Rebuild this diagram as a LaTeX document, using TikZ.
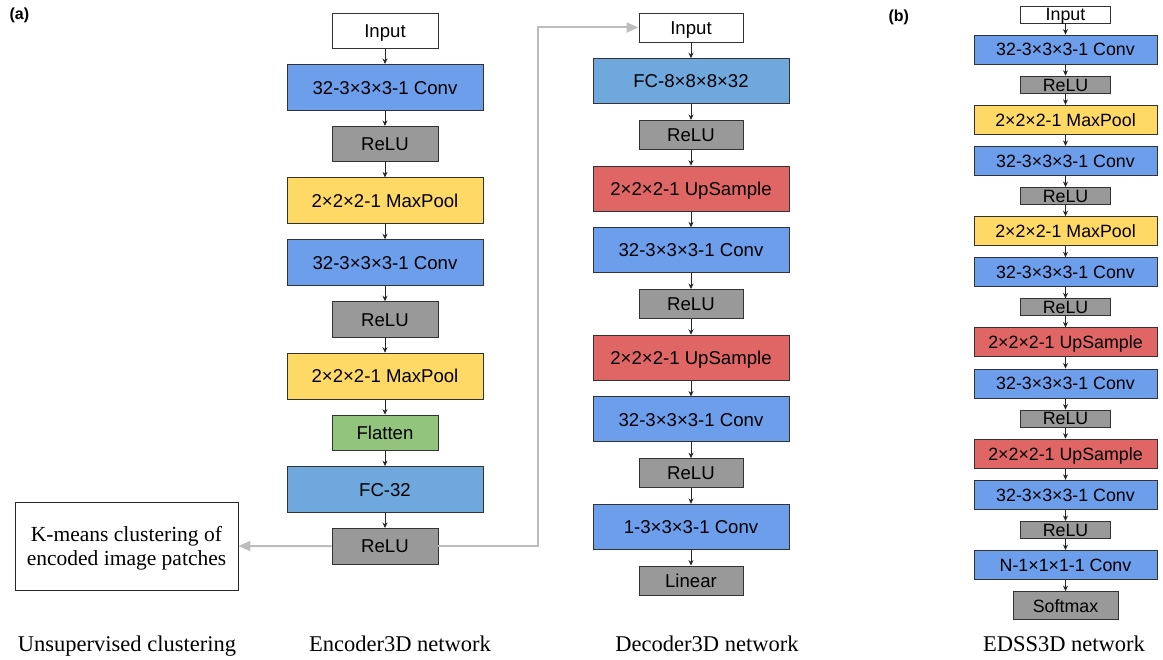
\documentclass[tikz,border=0pt]{standalone}
\usepackage{fontspec}
\setmainfont{Liberation Serif}
\setsansfont{Liberation Sans}
\usetikzlibrary{arrows.meta}

\definecolor{convblue}{HTML}{6D9EEB}
\definecolor{fcblue}{HTML}{6FA8DC}
\definecolor{relugrey}{HTML}{999999}
\definecolor{poolyellow}{HTML}{FFD966}
\definecolor{upred}{HTML}{E06666}
\definecolor{flatgreen}{HTML}{93C47D}
\definecolor{linkgrey}{HTML}{BDBDBD}

\tikzset{
  blk/.style={draw=black!80, line width=0.9pt, inner sep=0pt,
              text height=13.4pt, text depth=0pt,
              font=\sffamily\fontsize{18.6}{20}\selectfont},
  encS/.style={blk, minimum width=106pt, minimum height=35.5pt},
  encL/.style={blk, minimum width=196pt, minimum height=46pt},
  decS/.style={blk, minimum width=104pt, minimum height=29pt},
  decL/.style={blk, minimum width=196pt, minimum height=45pt},
  edsS/.style={blk, minimum width=90pt, minimum height=17pt, text height=12.8pt,
               font=\sffamily\fontsize{17.8}{18}\selectfont},
  edsL/.style={blk, minimum width=183pt, minimum height=29pt, text height=12.8pt,
               font=\sffamily\fontsize{17.8}{18}\selectfont},
  inp/.style={fill=white},
  conv/.style={fill=convblue},
  fcb/.style={fill=fcblue},
  relu/.style={fill=relugrey},
  pool/.style={fill=poolyellow},
  ups/.style={fill=upred},
  flat/.style={fill=flatgreen},
  flow/.style={draw=black!85, line width=0.8pt, -{Stealth[length=5.5pt,width=5pt]}},
  link/.style={draw=linkgrey, line width=2pt, -{Triangle[length=12pt,width=10pt]}},
  caption/.style={font=\fontsize{22.5}{24}\selectfont, anchor=base},
  panel/.style={font=\sffamily\bfseries\fontsize{16}{18}\selectfont, anchor=base west}
}

\begin{document}
\begin{tikzpicture}[x=1pt,y=-1pt]
\useasboundingbox (0,0) rectangle (1163,660);

% panel letters
\node[panel] (pa) at (6,19.6) {(a)};
\node[panel] (pb) at (885,21.5) {(b)};

% Encoder3D network
\node[encS,inp]  (eIn) at (385,30.75)  {Input};
\node[encL,conv] (eC1) at (385,87.44)  {32-3×3×3-1 Conv};
\node[encS,relu] (eR1) at (385,144.13) {ReLU};
\node[encL,pool] (eM1) at (385,200.82) {2×2×2-1 MaxPool};
\node[encL,conv] (eC2) at (385,262.76) {32-3×3×3-1 Conv};
\node[encS,relu] (eR2) at (385,319.45) {ReLU};
\node[encL,pool] (eM2) at (385,376.14) {2×2×2-1 MaxPool};
\node[encS,flat] (eF)  at (385,432.83) {Flatten};
\node[encL,fcb]  (eFC) at (385,489.52) {FC-32};
\node[encS,relu] (eR3) at (385,546.21) {ReLU};

\foreach \a/\b in {eIn/eC1,eC1/eR1,eR1/eM1,eM1/eC2,eC2/eR2,eR2/eM2,eM2/eF,eF/eFC,eFC/eR3}
  \draw[flow] (\a) -- (\b);

% Decoder3D network
\node[decS,inp]  (dIn) at (691,27.5)  {Input};
\node[decL,fcb]  (dFC) at (691,81.2)  {FC-8×8×8×32};
\node[decS,relu] (dR1) at (691,134.9) {ReLU};
\node[decL,ups]  (dU1) at (691,188.6) {2×2×2-1 UpSample};
\node[decL,conv] (dC1) at (691,250.3) {32-3×3×3-1 Conv};
\node[decS,relu] (dR2) at (691,304)   {ReLU};
\node[decL,ups]  (dU2) at (691,357.7) {2×2×2-1 UpSample};
\node[decL,conv] (dC2) at (691,419.4) {32-3×3×3-1 Conv};
\node[decS,relu] (dR3) at (691,473.1) {ReLU};
\node[decL,conv] (dC3) at (691,526.8) {1-3×3×3-1 Conv};
\node[decS,relu] (dL)  at (691,580.5) {Linear};

\foreach \a/\b in {dIn/dFC,dFC/dR1,dR1/dU1,dU1/dC1,dC1/dR2,dR2/dU2,dU2/dC2,dC2/dR3,dR3/dC3,dC3/dL}
  \draw[flow] (\a) -- (\b);

% EDSS3D network
\node[edsS,inp]  (sIn) at (1065.5,14.5)  {Input};
\node[edsL,conv] (sC1) at (1065.5,49.6)  {32-3×3×3-1 Conv};
\node[edsS,relu] (sR1) at (1065.5,84.7)  {ReLU};
\node[edsL,pool] (sM1) at (1065.5,119.8) {2×2×2-1 MaxPool};
\node[edsL,conv] (sC2) at (1065.5,160.9) {32-3×3×3-1 Conv};
\node[edsS,relu] (sR2) at (1065.5,196)   {ReLU};
\node[edsL,pool] (sM2) at (1065.5,231.1) {2×2×2-1 MaxPool};
\node[edsL,conv] (sC3) at (1065.5,272.2) {32-3×3×3-1 Conv};
\node[edsS,relu] (sR3) at (1065.5,307.3) {ReLU};
\node[edsL,ups]  (sU1) at (1065.5,342.4) {2×2×2-1 UpSample};
\node[edsL,conv] (sC4) at (1065.5,383.5) {32-3×3×3-1 Conv};
\node[edsS,relu] (sR4) at (1065.5,418.6) {ReLU};
\node[edsL,ups]  (sU2) at (1065.5,453.7) {2×2×2-1 UpSample};
\node[edsL,conv] (sC5) at (1065.5,494.8) {32-3×3×3-1 Conv};
\node[edsS,relu] (sR5) at (1065.5,529.9) {ReLU};
\node[edsL,conv] (sN)  at (1065.5,565)   {N-1×1×1-1 Conv};
\node[edsS,relu,minimum width=105pt,minimum height=28pt] (sSm) at (1065.5,605.6) {Softmax};

\foreach \a/\b in {sIn/sC1,sC1/sR1,sR1/sM1,sM1/sC2,sC2/sR2,sR2/sM2,sM2/sC3,sC3/sR3,sR3/sU1,sU1/sC4,sC4/sR4,sR4/sU2,sU2/sC5,sC5/sR5,sR5/sN,sN/sSm}
  \draw[flow] (\a) -- (\b);

% unsupervised clustering box
\node[draw=black!85, line width=0.9pt, minimum width=223pt, minimum height=88pt,
      inner sep=0pt, font=\fontsize{21.5}{24}\selectfont] (km) at (126.5,546)
      {\raisebox{-3pt}[\height][\depth]{\begin{tabular}{@{}c@{}}K-means clustering of\\encoded image patches\end{tabular}}};

% encoded features: to clustering and to the decoder
\coordinate (riser) at (538,0);
\draw[link] (eR3.west) -- (km.east);
\draw[link] (eR3.east) -| (riser |- dIn.west) -- (dIn.west);

% captions
\node[caption] (capU) at (127,651)  {Unsupervised clustering};
\node[caption] (capE) at (400,651)  {Encoder3D network};
\node[caption] (capD) at (707,651)  {Decoder3D network};
\node[caption] (capS) at (1064,651) {EDSS3D network};
\end{tikzpicture}
\end{document}
